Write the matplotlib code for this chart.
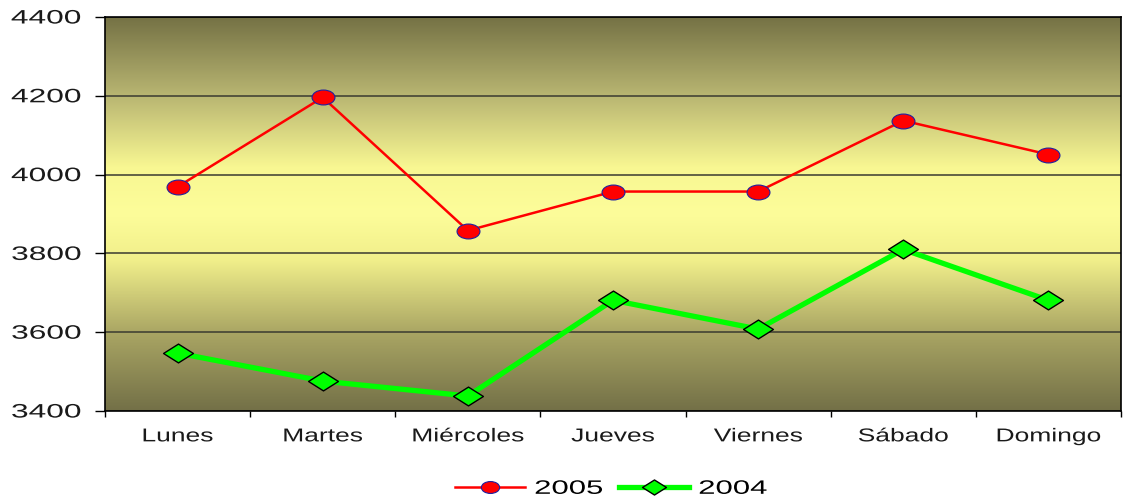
import numpy as np
import matplotlib
matplotlib.use("Agg")
import matplotlib.pyplot as plt
from matplotlib.path import Path
from matplotlib.transforms import Affine2D
from matplotlib.patheffects import AbstractPathEffect
from matplotlib.colors import LinearSegmentedColormap

dias = ["Lunes", "Martes", "Miércoles", "Jueves", "Viernes", "Sábado", "Domingo"]
serie_2005 = [3969, 4196, 3858, 3957, 3957, 4137, 4051]
serie_2004 = [3547, 3476, 3438, 3681, 3608, 3810, 3681]
y_ticks = [3400, 3600, 3800, 4000, 4200, 4400]

plt.rcParams["font.family"] = ["Liberation Sans", "DejaVu Sans"]


class Stretch(AbstractPathEffect):
    # the source picture is stretched sideways, so widen the glyphs
    def __init__(self, sx, anchor=0.5):
        super().__init__()
        self.sx = sx
        self.anchor = anchor

    def draw_path(self, renderer, gc, tpath, affine, rgbFace=None):
        ext = tpath.get_extents()
        x0 = ext.x0 + (ext.x1 - ext.x0) * self.anchor
        t = Affine2D().translate(-x0, 0).scale(self.sx, 1).translate(x0, 0) + affine
        renderer.draw_path(gc, tpath, t, rgbFace)


# flattened markers (circle -> ellipse, squashed diamond)
circ = Path.unit_circle()
ellipse = Path(circ.vertices * [1, 0.65], circ.codes)
diamond = Path([(-1, 0), (0, 0.63), (1, 0), (0, -0.63), (-1, 0)],
               [Path.MOVETO, Path.LINETO, Path.LINETO, Path.LINETO, Path.CLOSEPOLY])

fig = plt.figure(figsize=(11.24, 4.97), dpi=100)
fig.patch.set_facecolor("white")
ax = fig.add_axes([105 / 1124, 1 - 411 / 497, (1121 - 105) / 1124, (411 - 17) / 497])

x = np.arange(len(dias))

cmap = LinearSegmentedColormap.from_list("fondo", [
    (0.0, "#737047"), (0.2, "#aaa664"), (0.38, "#f0ee8a"), (0.5, "#fdfd9a"),
    (0.62, "#f8f792"), (0.8, "#b9b672"), (1.0, "#757245")])
grad = np.linspace(0, 1, 256).reshape(-1, 1)
ax.imshow(grad, cmap=cmap, origin="lower", extent=(-0.5, 6.5, 3400, 4400),
          aspect="auto", zorder=0)

ax.plot(x, serie_2005, color="#ff0000", lw=1.8, marker=ellipse, ms=16.5,
        mfc="#ff0000", mec="#2020a0", mew=0.8, label="2005", zorder=3)
ax.plot(x, serie_2004, color="#00ff00", lw=3.8, marker=diamond, ms=21.5,
        mfc="#00ff00", mec="black", mew=1.0, label="2004", zorder=3)

ax.set_xlim(-0.5, 6.5)
ax.set_ylim(3400, 4400)
ax.set_yticks(y_ticks)
ax.set_xticks(x)
ax.set_xticklabels(dias, fontsize=13.4, color="#1a1a1a")
ax.set_xticks(np.arange(-0.5, 7, 1), minor=True)
ax.tick_params(axis="x", which="major", length=0, pad=12.5)
ax.tick_params(axis="x", which="minor", length=4, width=1, color="black", direction="out")
ax.tick_params(axis="y", length=7, width=1, pad=10, labelsize=14, labelcolor="#1a1a1a")
ax.grid(axis="y", color="#3a3a30", lw=1.1)
ax.set_axisbelow(True)
for s in ax.spines.values():
    s.set_color("black")
    s.set_linewidth(1.2)

for lbl in ax.get_xticklabels():
    lbl.set_path_effects([Stretch(1.42, 0.5)])
for lbl in ax.get_yticklabels():
    lbl.set_path_effects([Stretch(1.63, 1.0)])

leg = fig.legend(loc="center left", bbox_to_anchor=(455 / 1124, 1 - 489 / 497),
                 frameon=False, fontsize=14, handlelength=3.6, handletextpad=0.5,
                 columnspacing=2.1, ncol=2, borderpad=0, borderaxespad=0,
                 markerscale=0.8, numpoints=1)
for t in leg.get_texts():
    t.set_path_effects([Stretch(1.6, 0.0)])

fig.savefig("out.png", dpi=100, facecolor="white")
